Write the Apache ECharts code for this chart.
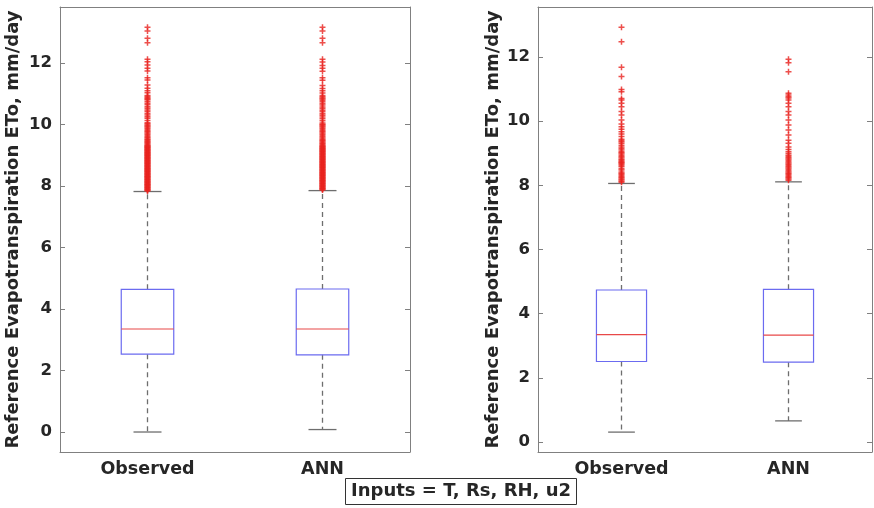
<!DOCTYPE html>
<html>
<head>
<meta charset="utf-8">
<script src="https://cdn.jsdelivr.net/npm/echarts@6/dist/echarts.min.js"></script>
<style>
  html, body { margin: 0; padding: 0; background: #fff; }
  #chart { width: 874px; height: 508px; }
</style>
</head>
<body>
<div id="chart"></div>
<script>
// Categories and tick labels
const categories = ['Observed', 'ANN'];
const yTicks = [0, 2, 4, 6, 8, 10, 12];
const yTitle = 'Reference Evapotranspiration ETo, mm/day';
const caption = 'Inputs = T, Rs, RH, u2';

// Box statistics: [lower whisker, Q1, median, Q3, upper whisker]
const leftObservedStats = [0.00, 2.53, 3.35, 4.64, 7.82];
const leftAnnStats      = [0.08, 2.51, 3.35, 4.65, 7.85];
const rightObservedStats = [0.31, 2.51, 3.35, 4.74, 8.06];
const rightAnnStats      = [0.66, 2.49, 3.33, 4.76, 8.11];

// Outliers (mm/day)
const leftObservedOutliers = [7.84, 7.86, 7.88, 7.9, 7.92, 7.94, 7.96, 7.98, 8.0, 8.02, 8.04, 8.06, 8.08, 8.1,
  8.12, 8.14, 8.16, 8.18, 8.2, 8.22, 8.24, 8.26, 8.28, 8.3, 8.32, 8.34, 8.36, 8.38, 8.4, 8.42, 8.44, 8.46,
  8.48, 8.5, 8.52, 8.54, 8.56, 8.58, 8.6, 8.62, 8.64, 8.66, 8.68, 8.7, 8.72, 8.74, 8.76, 8.78, 8.8, 8.82,
  8.84, 8.86, 8.88, 8.9, 8.92, 8.94, 8.96, 8.98, 9.0, 9.02, 9.04, 9.06, 9.08, 9.1, 9.12, 9.14, 9.16, 9.18,
  9.2, 9.22, 9.24, 9.26, 9.28, 9.3, 9.32, 9.35, 9.38, 9.41, 9.44, 9.47, 9.5, 9.53, 9.57, 9.6, 9.64, 9.68,
  9.72, 9.76, 9.8, 9.84, 9.88, 9.92, 9.95, 9.98, 10.02, 10.06, 10.13, 10.2, 10.25, 10.31, 10.36, 10.42,
  10.47, 10.53, 10.58, 10.64, 10.69, 10.75, 10.8, 10.84, 10.87, 10.91, 10.94, 11.03, 11.1, 11.18, 11.28,
  11.45, 11.52, 11.74, 11.83, 11.93, 12.04, 12.12, 12.66, 12.8, 13.04, 13.16];
const leftAnnOutliers = [7.87, 7.89, 7.91, 7.93, 7.95, 7.97, 7.99, 8.01, 8.03, 8.05, 8.07, 8.09, 8.11, 8.13,
  8.15, 8.17, 8.19, 8.21, 8.23, 8.25, 8.27, 8.29, 8.31, 8.33, 8.35, 8.37, 8.39, 8.41, 8.43, 8.45, 8.47,
  8.49, 8.51, 8.53, 8.55, 8.57, 8.59, 8.61, 8.63, 8.65, 8.67, 8.69, 8.71, 8.73, 8.75, 8.77, 8.79, 8.81,
  8.83, 8.85, 8.87, 8.89, 8.91, 8.93, 8.95, 8.97, 8.99, 9.01, 9.03, 9.05, 9.07, 9.09, 9.11, 9.13, 9.15,
  9.17, 9.19, 9.21, 9.23, 9.25, 9.27, 9.29, 9.31, 9.34, 9.37, 9.4, 9.43, 9.46, 9.49, 9.52, 9.56, 9.6,
  9.64, 9.68, 9.72, 9.76, 9.8, 9.84, 9.88, 9.92, 9.95, 9.98, 10.01, 10.05, 10.12, 10.19, 10.24, 10.3,
  10.35, 10.41, 10.46, 10.52, 10.57, 10.63, 10.68, 10.74, 10.79, 10.83, 10.86, 10.9, 10.94, 11.02, 11.1,
  11.17, 11.27, 11.44, 11.52, 11.73, 11.83, 11.92, 12.03, 12.12, 12.66, 12.8, 13.04, 13.16];
const rightObservedOutliers = [8.1, 8.13, 8.17, 8.2, 8.24, 8.27, 8.31, 8.35, 8.38, 8.42, 8.48, 8.52, 8.58,
  8.62, 8.66, 8.69, 8.72, 8.74, 8.78, 8.81, 8.85, 8.89, 8.93, 8.98, 9.02, 9.05, 9.1, 9.15, 9.2, 9.25, 9.31,
  9.36, 9.4, 9.44, 9.52, 9.6, 9.67, 9.75, 9.83, 9.91, 10.04, 10.19, 10.3, 10.45, 10.56, 10.66, 10.71,
  10.92, 10.99, 11.39, 11.68, 12.48, 12.93];
const rightAnnOutliers = [8.16, 8.2, 8.24, 8.27, 8.31, 8.35, 8.38, 8.42, 8.46, 8.5, 8.54, 8.58, 8.62, 8.66,
  8.7, 8.74, 8.78, 8.82, 8.86, 8.9, 8.94, 8.99, 9.05, 9.12, 9.2, 9.31, 9.41, 9.57, 9.73, 9.88, 10.04,
  10.19, 10.3, 10.45, 10.56, 10.66, 10.72, 10.76, 10.82, 10.87, 11.54, 11.82, 11.93];

const FONT = '"DejaVu Sans", "Liberation Sans", sans-serif';
const TEXT = '#262626';
const FRAME = '#808080';

// Draws one MATLAB-style box: dashed whiskers, caps, blue box, red median
function renderBox(params, api) {
  const i = api.value(0);
  const lo = api.coord([i, api.value(1)]);
  const q1 = api.coord([i, api.value(2)]);
  const md = api.coord([i, api.value(3)]);
  const q3 = api.coord([i, api.value(4)]);
  const hi = api.coord([i, api.value(5)]);
  const band = api.size([1, 0])[0];
  const bw = band * 0.30;
  const cw = band * 0.16;
  const x = lo[0];
  const whisker = { stroke: '#6e6e6e', lineWidth: 1.3, lineDash: [5, 4] };
  const cap = { stroke: '#6e6e6e', lineWidth: 1.3 };
  return {
    type: 'group',
    children: [
      { type: 'line', shape: { x1: x, y1: q3[1], x2: x, y2: hi[1] }, style: whisker },
      { type: 'line', shape: { x1: x, y1: q1[1], x2: x, y2: lo[1] }, style: whisker },
      { type: 'line', shape: { x1: x - cw / 2, y1: hi[1], x2: x + cw / 2, y2: hi[1] }, style: cap },
      { type: 'line', shape: { x1: x - cw / 2, y1: lo[1], x2: x + cw / 2, y2: lo[1] }, style: cap },
      { type: 'rect', shape: { x: x - bw / 2, y: q3[1], width: bw, height: q1[1] - q3[1] },
        style: { fill: 'none', stroke: '#6b6bf0', lineWidth: 1.2 } },
      { type: 'line', shape: { x1: x - bw / 2, y1: md[1], x2: x + bw / 2, y2: md[1] },
        style: { stroke: '#e84848', lineWidth: 1.2 } }
    ]
  };
}

function boxData(statsList) {
  return statsList.map((s, i) => [i].concat(s));
}
function outlierData(lists) {
  const out = [];
  lists.forEach((vals, i) => vals.forEach(v => out.push([i, v])));
  return out;
}

function xAxes(gridIndex) {
  return [
    {
      type: 'category', gridIndex, data: categories, position: 'bottom',
      axisLine: { onZero: false, lineStyle: { color: FRAME, width: 1 } },
      axisTick: { inside: true, alignWithLabel: true, length: 5, lineStyle: { color: FRAME } },
      axisLabel: { color: TEXT, fontFamily: FONT, fontWeight: 'bold', fontSize: 17.5, margin: 8 }
    },
    {
      type: 'category', gridIndex, data: categories, position: 'top',
      axisLine: { onZero: false, lineStyle: { color: FRAME, width: 1 } },
      axisTick: { inside: true, alignWithLabel: true, length: 5, lineStyle: { color: FRAME } },
      axisLabel: { show: false }
    }
  ];
}
function yAxes(gridIndex, min, max, nameGap) {
  return [
    {
      type: 'value', gridIndex, min, max, position: 'left',
      name: yTitle, nameLocation: 'middle', nameGap, nameRotate: 90,
      nameTextStyle: { color: TEXT, fontFamily: FONT, fontWeight: 'bold', fontSize: 18 },
      axisLine: { show: true, onZero: false, lineStyle: { color: FRAME, width: 1 } },
      axisTick: { show: true, inside: true, length: 5, customValues: yTicks, lineStyle: { color: FRAME } },
      axisLabel: { customValues: yTicks, color: TEXT, fontFamily: FONT, fontWeight: 'bold', fontSize: 16.5, margin: 8 },
      splitLine: { show: false }
    },
    {
      type: 'value', gridIndex, min, max, position: 'right',
      axisLine: { show: true, onZero: false, lineStyle: { color: FRAME, width: 1 } },
      axisTick: { show: true, inside: true, length: 5, customValues: yTicks, lineStyle: { color: FRAME } },
      axisLabel: { show: false },
      splitLine: { show: false }
    }
  ];
}

const plusSymbol = 'path://M0,-3 L0,3 M-3,0 L3,0';
const outlierStyle = { color: 'rgba(0,0,0,0)', borderColor: '#e8231f', borderWidth: 1.5 };

const chart = echarts.init(document.getElementById('chart'), null, { renderer: 'canvas' });
chart.setOption({
  animation: false,
  backgroundColor: '#ffffff',
  title: {
    text: caption, left: 345, top: 478,
    borderColor: '#333', borderWidth: 1, padding: [4, 6, 5, 6],
    textStyle: { color: TEXT, fontFamily: FONT, fontWeight: 'bold', fontSize: 18 }
  },
  grid: [
    { left: 60, top: 7, width: 350, height: 445 },
    { left: 538, top: 7, width: 334, height: 445 }
  ],
  xAxis: xAxes(0).concat(xAxes(1)),
  yAxis: yAxes(0, -0.65, 13.82, 38).concat(yAxes(1, -0.31, 13.56, 36)),
  series: [
    {
      type: 'custom', xAxisIndex: 0, yAxisIndex: 0, renderItem: renderBox,
      encode: { x: 0, y: [1, 2, 3, 4, 5] }, data: boxData([leftObservedStats, leftAnnStats]), z: 2
    },
    {
      type: 'scatter', xAxisIndex: 0, yAxisIndex: 0, symbol: plusSymbol, symbolSize: 6,
      itemStyle: outlierStyle, data: outlierData([leftObservedOutliers, leftAnnOutliers]), z: 3
    },
    {
      type: 'custom', xAxisIndex: 2, yAxisIndex: 2, renderItem: renderBox,
      encode: { x: 0, y: [1, 2, 3, 4, 5] }, data: boxData([rightObservedStats, rightAnnStats]), z: 2
    },
    {
      type: 'scatter', xAxisIndex: 2, yAxisIndex: 2, symbol: plusSymbol, symbolSize: 6,
      itemStyle: outlierStyle, data: outlierData([rightObservedOutliers, rightAnnOutliers]), z: 3
    }
  ]
});
</script>
</body>
</html>
